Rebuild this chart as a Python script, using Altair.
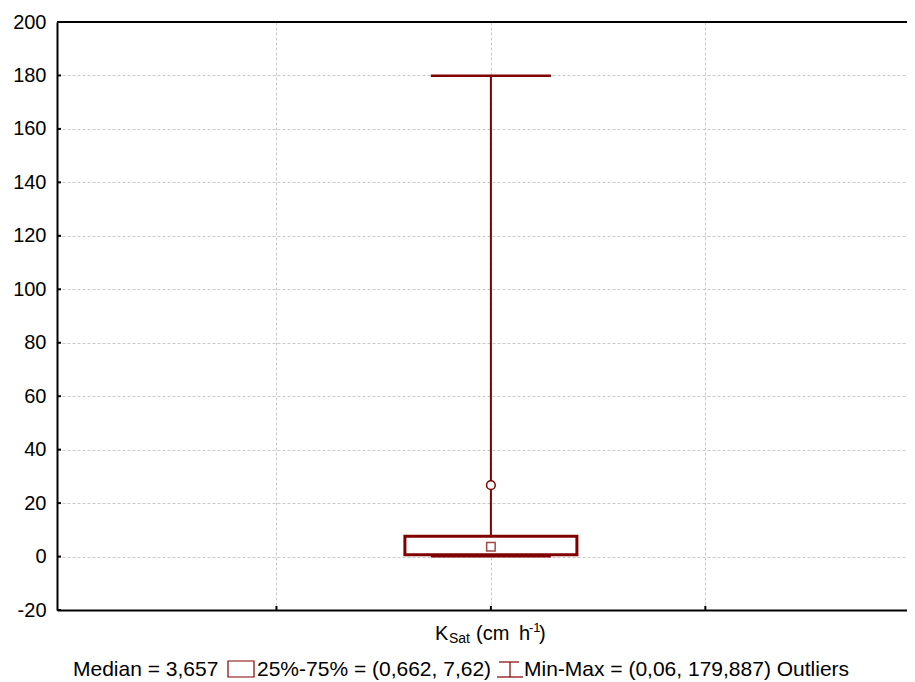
import altair as alt
import pandas as pd

# ---- data ----
variables = ["KSat"]
medians = [3.657]
q1s = [0.662]
q3s = [7.62]
mins = [0.06]
maxs = [179.887]
outlier_values = [26.7]
y_ticks = [-20, 0, 20, 40, 60, 80, 100, 120, 140, 160, 180, 200]
x_grid = [1, 2, 3]

stats = pd.DataFrame({"var": variables, "median": medians, "q1": q1s, "q3": q3s,
                      "lo": mins, "hi": maxs})
outl = pd.DataFrame({"var": variables * len(outlier_values), "v": outlier_values})
yt = pd.DataFrame({"v": y_ticks})
xg = pd.DataFrame({"v": x_grid})

DR = "#800000"
FONT = "Liberation Sans"
W, H = 850, 588

xs = alt.Scale(domain=[0, 3.917], nice=False, zero=False)
ys = alt.Scale(domain=[-20, 200], nice=False, zero=False)

xaxis = alt.Axis(values=x_grid, labels=False, ticks=False, title=None, grid=True,
                 gridDash=[3, 2], gridColor="#c8c8c8", domainColor="black", domainWidth=2)
yaxis = alt.Axis(values=y_ticks, ticks=False, title=None, grid=True, gridDash=[3, 2],
                 gridColor="#c8c8c8", domainColor="black", domainWidth=2,
                 labelFont=FONT, labelFontSize=20, labelColor="black", labelPadding=11,
                 labelExpr="'' + datum.value")

base = alt.Chart(stats).transform_calculate(pos="2")

axes = alt.Chart(yt).mark_point(opacity=0).encode(
    x=alt.X("v:Q", scale=xs, axis=xaxis),
    y=alt.Y("v:Q", scale=ys, axis=yaxis),
)

whisker = base.mark_rule(color=DR, strokeWidth=2).encode(
    x=alt.X("pos:Q", scale=xs), y=alt.Y("lo:Q", scale=ys), y2="hi:Q")
caps_hi = base.mark_tick(color=DR, size=120, thickness=2.5, orient="horizontal", opacity=1).encode(
    x=alt.X("pos:Q", scale=xs), y=alt.Y("hi:Q", scale=ys))
caps_lo = base.mark_tick(color=DR, size=120, thickness=2, orient="horizontal", opacity=1).encode(
    x=alt.X("pos:Q", scale=xs), y=alt.Y("lo:Q", scale=ys))
box = base.mark_bar(size=172, fill="white", stroke=DR, strokeWidth=3).encode(
    x=alt.X("pos:Q", scale=xs), y=alt.Y("q1:Q", scale=ys), y2="q3:Q")
med = base.mark_square(size=72, filled=False, color="#a04848", strokeWidth=1.5, opacity=1).encode(
    x=alt.X("pos:Q", scale=xs), y=alt.Y("median:Q", scale=ys))
outs = alt.Chart(outl).transform_calculate(pos="2").mark_point(
    shape="circle", size=75, filled=True, fill="white", stroke=DR, strokeWidth=1.5, opacity=1
).encode(x=alt.X("pos:Q", scale=xs), y=alt.Y("v:Q", scale=ys))

# inward tick marks
ytick_marks = alt.Chart(yt).mark_rule(color="black", strokeWidth=2).encode(
    y=alt.Y("v:Q", scale=ys), x=alt.value(0), x2=alt.value(4))
xtick_marks = alt.Chart(xg).mark_rule(color="black", strokeWidth=2).encode(
    x=alt.X("v:Q", scale=xs), y=alt.value(H), y2=alt.value(H - 4))
top_border = base.mark_rule(color="black", strokeWidth=2).encode(
    x=alt.value(0), x2=alt.value(W), y=alt.value(0))

def txt(s, x, y, size=20, align="left"):
    return base.mark_text(text=s, font=FONT, fontSize=size, color="black", align=align,
                          baseline="alphabetic").encode(x=alt.value(x), y=alt.value(y))

# x-axis title: K_Sat (cm h^-1)
title_parts = [
    txt("K", 378, 618, 20),
    txt("Sat", 392, 621, 14),
    txt("(cm", 419, 618, 20),
    txt("h", 462, 618, 20),
    txt("-1", 472, 610, 13),
    txt(")", 482, 618, 20),
]

# bottom legend
legend_parts = [
    txt("Median = 3,657", 16, 654, 21),
    txt("25%-75% = (0,662, 7,62)", 200, 654, 21),
    txt("Min-Max = (0,06, 179,887) Outliers", 467, 654, 21),
]
leg_box = base.mark_rect(fill="white", stroke=DR, strokeWidth=1.2).encode(
    x=alt.value(171), x2=alt.value(197), y=alt.value(639), y2=alt.value(655))
leg_w_v = base.mark_rule(color=DR, strokeWidth=1.2).encode(
    x=alt.value(453), y=alt.value(640), y2=alt.value(655))
leg_w_t = base.mark_rule(color=DR, strokeWidth=1.2).encode(
    x=alt.value(442), x2=alt.value(462), y=alt.value(640))
leg_w_b = base.mark_rule(color=DR, strokeWidth=1.2).encode(
    x=alt.value(440), x2=alt.value(466), y=alt.value(655))

chart = alt.layer(
    axes, whisker, caps_hi, caps_lo, box, med, outs,
    ytick_marks, xtick_marks, top_border,
    *title_parts, *legend_parts, leg_box, leg_w_v, leg_w_t, leg_w_b,
).properties(
    width=W, height=H,
    autosize=alt.AutoSizeParams(type="none"),
    padding={"left": 49, "top": 14, "right": 0, "bottom": 72},
).configure_view(stroke=None).configure(background="white")

chart.save("out.html", embed_options={"renderer": "svg", "actions": False})
